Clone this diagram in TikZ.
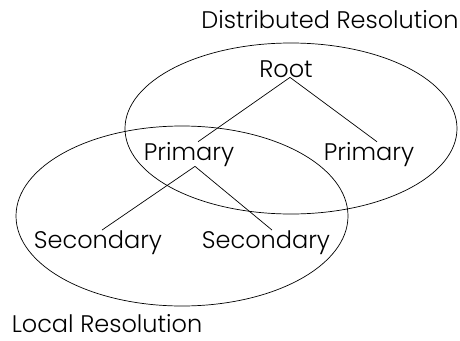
\documentclass[tikz,border=0pt]{standalone}
\usepackage{fontspec}
\setmainfont{Poppins}[UprightFont={* Light}]
\begin{document}
\begin{tikzpicture}[x=1pt,y=-1pt,
  lbl/.style={font=\fontsize{24}{26}\selectfont, inner sep=0pt, anchor=base},
  link/.style={line width=0.7pt}]
\useasboundingbox (0,0) rectangle (460,340);
% the two resolution domains
\draw[link] (291,128.5) ellipse [x radius=166, y radius=85.5];
\draw[link] (182,216) ellipse [x radius=166, y radius=90];
% titles
\node[lbl] (dist) at (330,28) {Distributed Resolution};
\node[lbl] (local) at (107,332) {Local Resolution};
% tree
\node[lbl] (root) at (286,77) {Root};
\node[lbl] (pl) at (189,160) {Primary};
\node[lbl] (pr) at (369,160) {Primary};
\node[lbl] (sl) at (98,248) {Secondary};
\node[lbl] (sr) at (266,248) {Secondary};
\draw[link] ([xshift=4pt]root.south) -- ([xshift=9pt]pl.north);
\draw[link] ([xshift=4pt]root.south) -- ([xshift=8pt]pr.north);
\draw[link] ([xshift=6pt]pl.south) -- ([xshift=4pt]sl.north);
\draw[link] ([xshift=6pt]pl.south) -- ([xshift=6pt]sr.north);
\end{tikzpicture}
\end{document}
